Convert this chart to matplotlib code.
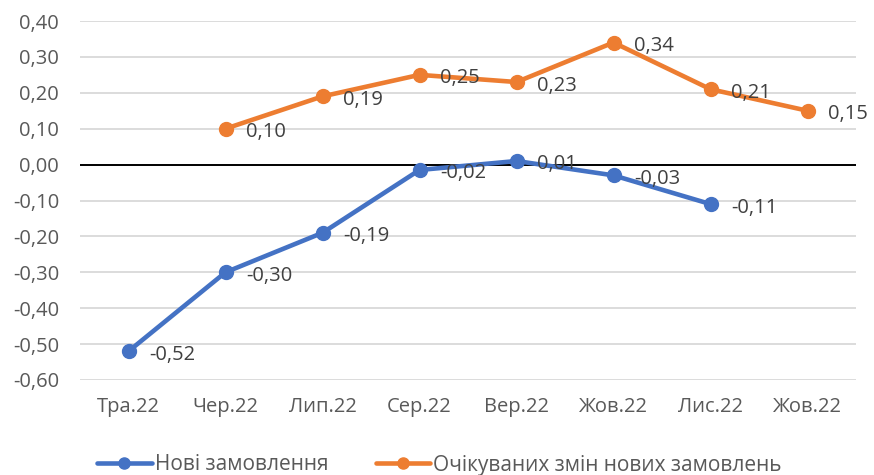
import matplotlib
matplotlib.use("Agg")
import matplotlib.pyplot as plt
import numpy as np

categories = ["Тра.22", "Чер.22", "Лип.22", "Сер.22", "Вер.22", "Жов.22", "Лис.22", "Жов.22"]
new_orders = [-0.52, -0.30, -0.19, -0.015, 0.01, -0.03, -0.11, None]
new_orders_labels = ["-0,52", "-0,30", "-0,19", "-0,02", "0,01", "-0,03", "-0,11", None]
expected_orders = [None, 0.10, 0.19, 0.25, 0.23, 0.34, 0.21, 0.15]
expected_orders_labels = [None, "0,10", "0,19", "0,25", "0,23", "0,34", "0,21", "0,15"]
series_names = ["Нові замовлення", "Очікуваних змін нових замовлень"]
yticks = [0.4, 0.3, 0.2, 0.1, 0.0, -0.1, -0.2, -0.3, -0.4, -0.5, -0.6]

plt.rcParams['font.family'] = ['Open Sans', 'DejaVu Sans']
fig = plt.figure(figsize=(8.74, 4.75), dpi=100)
ax = fig.add_axes([80/874, 1-380/475, 776/874, 359/475])

x = np.arange(len(categories))
colors = ["#4472C4", "#ED7D31"]
label_color = "#404040"
tick_color = "#595959"
FS = 14.5

def fmt(v):
    return f"{v:.2f}".replace(".", ",")

for vals, labs, col, name in zip([new_orders, expected_orders],
                                 [new_orders_labels, expected_orders_labels],
                                 colors, series_names):
    xs = [xi for xi, v in zip(x, vals) if v is not None]
    ys = [v for v in vals if v is not None]
    ls = [l for l in labs if l is not None]
    ax.plot(xs, ys, color=col, lw=3.3, marker="o", ms=10, label=name, zorder=3,
            solid_capstyle="round")
    for xi, yi, t in zip(xs, ys, ls):
        ax.annotate(t, (xi, yi), xytext=(15, -2.5),
                    textcoords="offset points", ha="left", va="center",
                    fontsize=FS, color=label_color, zorder=4)

ax.set_xlim(-0.5, len(categories) - 0.5)
ax.set_ylim(-0.6, 0.4)
ax.set_yticks(yticks)
ax.set_yticklabels([fmt(v) for v in yticks])
ax.set_xticks(x)
ax.set_xticklabels(categories)
ax.tick_params(axis="both", length=0, labelsize=FS, colors=tick_color)
ax.tick_params(axis="x", pad=12)
ax.tick_params(axis="y", pad=15)
ax.grid(axis="y", color="#D9D9D9", lw=1.3, zorder=0)
ax.axhline(0, color="black", lw=1.4, zorder=2)
for s in ax.spines.values():
    s.set_visible(False)

leg = fig.legend(loc="center", bbox_to_anchor=(0.503, 1-465/475), ncol=2, frameon=False,
                 fontsize=15, handlelength=2.6, columnspacing=2.3, handletextpad=0.15,
                 labelcolor=tick_color, borderpad=0)
for h in leg.legend_handles:
    h.set_markersize(8)

fig.savefig("out.png", dpi=100)
